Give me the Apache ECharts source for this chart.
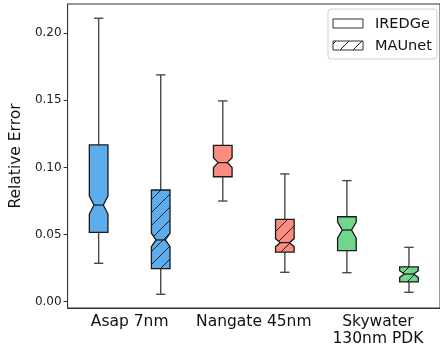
<!DOCTYPE html>
<html>
<head>
<meta charset="utf-8">
<script src="https://cdn.jsdelivr.net/npm/echarts@6/dist/echarts.min.js"></script>
<style>
html,body{margin:0;padding:0;background:#fff;}
#chart{width:440px;height:349px;}
</style>
</head>
<body>
<div id="chart"></div>
<script>
// categories and colours
var categories = ['Asap 7nm', 'Nangate 45nm', 'Skywater\n130nm PDK'];
var colors = ['#5DADEC', '#FA8C80', '#72D68F'];

// [min, q1, median, q3, max]
var iredge = [
    [0.0286, 0.0517, 0.0720, 0.1168, 0.2112],
    [0.0750, 0.0931, 0.1036, 0.1165, 0.1496],
    [0.0216, 0.0380, 0.0534, 0.0633, 0.0902]
];
var maunet = [
    [0.0055, 0.0246, 0.0460, 0.0832, 0.1690],
    [0.0219, 0.0370, 0.0440, 0.0614, 0.0952],
    [0.0070, 0.0147, 0.0206, 0.0260, 0.0405]
];
// half height of the notch around the median
var iredgeNotch = [0.0067, 0.0037, 0.0060];
var maunetNotch = [0.0050, 0.0030, 0.0025];

var yTicks = [0, 0.05, 0.10, 0.15, 0.20];
var yTickLabels = ['0.00', '0.05', '0.10', '0.15', '0.20'];

//hatch pattern '/'
function makeHatch(bg){
    var s = 13;
    var cv = document.createElement('canvas');
    cv.width = s; cv.height = s;
    var ctx = cv.getContext('2d');
    ctx.fillStyle = bg;
    ctx.fillRect(0, 0, s, s);
    ctx.strokeStyle = '#1f1f1f';
    ctx.lineWidth = 1;
    ctx.beginPath();
    ctx.moveTo(-1, s + 1); ctx.lineTo(s + 1, -1);
    ctx.moveTo(-2, 2); ctx.lineTo(2, -2);
    ctx.moveTo(s - 2, s + 2); ctx.lineTo(s + 2, s - 2);
    ctx.stroke();
    return {image: cv, repeat: 'repeat'};
}
var hatchFills = colors.map(function(c){ return makeHatch(c); });

function buildData(stats, notch){
    var out = [];
    for (var i = 0; i < stats.length; i++) {
        out.push([i].concat(stats[i]).concat([notch[i]]));
    }
    return out;
}

function boxRenderer(offset, hatched){
    return function(params, api){
        var idx = api.value(0);
        var band = api.size([1, 0])[0];
        var x = api.coord([idx, 0])[0] + offset * band;
        var w = band * 0.15;
        var vmin = api.value(1), q1 = api.value(2), med = api.value(3),
            q3 = api.value(4), vmax = api.value(5), nh = api.value(6);
        function y(v){ return api.coord([idx, v])[1]; }
        var lineStyle = {stroke: '#4a4a4a', lineWidth: 1.4};
        var edge = '#1a1a1a';
        var pts = [
            [x - w / 2, y(q1)], [x - w / 2, y(med - nh)], [x - w / 4, y(med)],
            [x - w / 2, y(med + nh)], [x - w / 2, y(q3)], [x + w / 2, y(q3)],
            [x + w / 2, y(med + nh)], [x + w / 4, y(med)], [x + w / 2, y(med - nh)],
            [x + w / 2, y(q1)]
        ];
        return {
            type: 'group',
            children: [
                {type: 'line', shape: {x1: x, y1: y(vmin), x2: x, y2: y(q1)}, style: lineStyle},
                {type: 'line', shape: {x1: x, y1: y(q3), x2: x, y2: y(vmax)}, style: lineStyle},
                {type: 'line', shape: {x1: x - w / 4, y1: y(vmin), x2: x + w / 4, y2: y(vmin)}, style: lineStyle},
                {type: 'line', shape: {x1: x - w / 4, y1: y(vmax), x2: x + w / 4, y2: y(vmax)}, style: lineStyle},
                {type: 'polygon', shape: {points: pts},
                    style: {fill: hatched ? hatchFills[idx] : colors[idx], stroke: edge, lineWidth: 1.3}},
                {type: 'line', shape: {x1: x - w / 4, y1: y(med), x2: x + w / 4, y2: y(med)},
                    style: {stroke: edge, lineWidth: 1.2}}
            ]
        };
    };
}

var myChart = echarts.init(document.getElementById('chart'));
var font = 'DejaVu Sans';
var option = {
    animation: false,
    grid: {
        left: 59,
        top: 4,
        bottom: 41,
        right: -5,
        show: true,
        borderColor: '#333',
        borderWidth: 1
    },
    xAxis: {
        type: 'category',
        data: categories,
        boundaryGap: true,
        axisLine: {onZero: false, lineStyle: {color: '#333'}},
        axisTick: {alignWithLabel: true, length: 4, lineStyle: {color: '#333'}},
        axisLabel: {
            interval: 0,
            fontFamily: font,
            fontSize: 15.5,
            color: '#111',
            margin: 5,
            lineHeight: 17
        },
        splitLine: {show: false}
    },
    yAxis: {
        type: 'value',
        min: -0.0047,
        max: 0.2218,
        name: 'Relative Error',
        nameLocation: 'middle',
        nameGap: 36,
        nameTextStyle: {fontFamily: font, fontSize: 15.5, color: '#111'},
        axisLine: {show: true, lineStyle: {color: '#333'}},
        axisTick: {show: true, length: 4, customValues: yTicks, lineStyle: {color: '#333'}},
        axisLabel: {
            fontFamily: font,
            fontSize: 12,
            color: '#222',
            margin: 6,
            customValues: yTicks,
            formatter: function(v){
                var i = yTicks.indexOf(v);
                return i >= 0 ? yTickLabels[i] : v.toFixed(2);
            }
        },
        splitLine: {show: false}
    },
    graphic: [
        {type: 'rect', shape: {x: 328, y: 9, width: 109, height: 50, r: 3},
            style: {fill: '#fff', stroke: '#d0d0d0', lineWidth: 1}, z: 100},
        {type: 'rect', shape: {x: 333, y: 19, width: 30, height: 9},
            style: {fill: '#fff', stroke: '#333', lineWidth: 1}, z: 101},
        {type: 'rect', shape: {x: 333, y: 41, width: 30, height: 9},
            style: {fill: makeHatch('#fff'), stroke: '#333', lineWidth: 1}, z: 101},
        {type: 'text', x: 375, y: 24, z: 101,
            style: {text: 'IREDGe', fontFamily: font, fontSize: 14.5, fill: '#111', verticalAlign: 'middle'}},
        {type: 'text', x: 375, y: 46, z: 101,
            style: {text: 'MAUnet', fontFamily: font, fontSize: 14.5, fill: '#111', verticalAlign: 'middle'}}
    ],
    series: [
        {
            name: 'IREDGe',
            type: 'custom',
            renderItem: boxRenderer(-0.25, false),
            data: buildData(iredge, iredgeNotch),
            encode: {x: 0, y: [1, 2, 3, 4, 5]}
        },
        {
            name: 'MAUnet',
            type: 'custom',
            renderItem: boxRenderer(0.25, true),
            data: buildData(maunet, maunetNotch),
            encode: {x: 0, y: [1, 2, 3, 4, 5]}
        }
    ]
};

myChart.setOption(option);
</script>
</body>
</html>
